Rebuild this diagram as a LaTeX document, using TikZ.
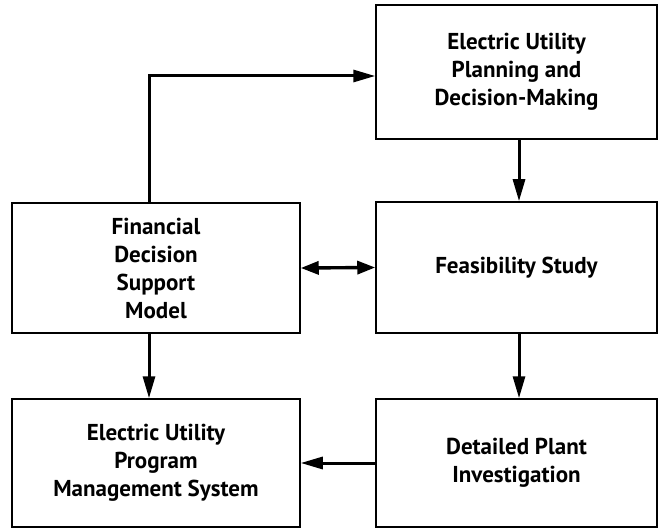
\documentclass[tikz,border=0pt]{standalone}
\usepackage{fontspec}
\setsansfont{PT Sans}
\usetikzlibrary{arrows.meta, positioning, calc}
\tikzset{
  blk/.style={draw=black, line width=1.5pt, fill=white, align=center,
    font=\fontsize{23}{28}\selectfont\sffamily\bfseries},
  flow/.style={line width=3pt, -{Triangle[length=22pt, width=12pt]}},
  flowboth/.style={line width=3.4pt, {Triangle[length=18pt, width=13pt]}-{Triangle[length=18pt, width=13pt]}}
}

\begin{document}
\begin{tikzpicture}[x=1pt, y=1pt]

  \useasboundingbox (0,0) rectangle (658,-529);

  %% right column
  \node[blk, minimum width=281pt, minimum height=134pt] (plan) at (516.5,-72)
    {Electric Utility\\Planning and\\Decision-Making};
  \node[blk, minimum width=281pt, minimum height=131pt] (feas) at (516.5,-267.5)
    {Feasibility Study};
  \node[blk, minimum width=281pt, minimum height=128pt] (detail) at (516.5,-463)
    {Detailed Plant\\Investigation};

  %% left column
  \node[blk, minimum width=288pt, minimum height=130pt] (fin) at (156,-268)
    {Financial\\Decision\\Support\\Model};
  \node[blk, minimum width=288pt, minimum height=128pt] (eupms) at (156,-463)
    {Electric Utility\\Program\\Management System};

  %% connectors
  \draw[line width=3pt, -{Triangle[length=22pt, width=12pt]}, line join=miter]
    ([xshift=-7pt]fin.north) |- ([yshift=-4pt]plan.west);
  \draw[flow] ([xshift=2.5pt]plan.south) -- ([xshift=2.5pt]feas.north);
  \draw[flow] ([xshift=2.5pt]feas.south) -- ([xshift=2.5pt]detail.north);
  \draw[flow] ([xshift=-7pt]fin.south) -- ([xshift=-7pt]eupms.north);
  \draw[flowboth] (fin.east) -- (feas.west);
  \draw[flow] (detail.west) -- (eupms.east);

\end{tikzpicture}
\end{document}
